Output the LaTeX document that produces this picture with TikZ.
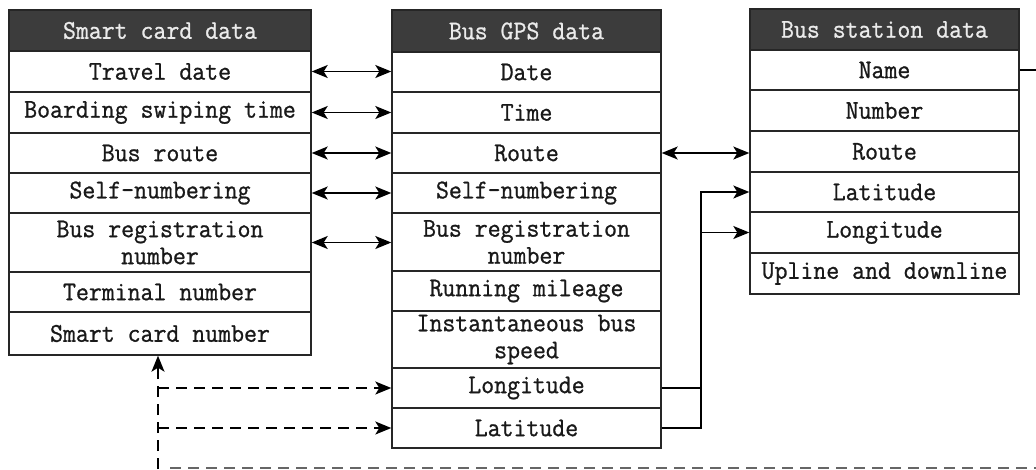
\documentclass[tikz,border=0pt]{standalone}
\usepackage{fontspec}
\usetikzlibrary{arrows.meta}
\newfontfamily\tfont[FakeBold=0.9,FakeStretch=0.93]{Latin Modern Mono}
\definecolor{hdr}{HTML}{3C3C3C}
\tikzset{
  cell/.style={draw=black!85, line width=1.4pt, fill=white, inner sep=0pt, align=center,
     font=\tfont\fontsize{27}{27}\selectfont, text=black!90},
  hcell/.style={cell, fill=hdr, text=white!92!black},
  tip/.style={-{Stealth[length=16pt,width=13pt,inset=4pt]}, line width=1.4pt},
  dtip/.style={{Stealth[length=16pt,width=13pt,inset=4pt]}-{Stealth[length=16pt,width=13pt,inset=4pt]}, line width=1.4pt},
  dashline/.style={line width=1.5pt, dash pattern=on 11pt off 7pt}
}
\newcommand{\cellat}[6]{% name, left, top, right, bottom, text
  \node[cell, minimum width={#4-#2}, minimum height={#5-#3}] (#1) at ({(#2+#4)/2},{(#3+#5)/2}) {#6};}
\newcommand{\hcellat}[6]{%
  \node[hcell, minimum width={#4-#2}, minimum height={#5-#3}] (#1) at ({(#2+#4)/2},{(#3+#5)/2}) {#6};}
\begin{document}
\begin{tikzpicture}[x=1pt,y=-1pt]
\useasboundingbox (0,0) rectangle (1036,469);
% left table
\hcellat{lh}{9}{10}{311}{51}{Smart card data}
\cellat{l1}{9}{51}{311}{92}{Travel date}
\cellat{l2}{9}{92}{311}{133}{Boarding swiping time}
\cellat{l3}{9}{133}{311}{173}{Bus route}
\cellat{l4}{9}{173}{311}{213}{Self-numbering}
\cellat{l5}{9}{213}{311}{272}{Bus registration\\number}
\cellat{l6}{9}{272}{311}{312}{Terminal number}
\cellat{l7}{9}{312}{311}{355}{Smart card number}
% middle table
\hcellat{mh}{392}{10}{661}{52}{Bus GPS data}
\cellat{m1}{392}{52}{661}{92}{Date}
\cellat{m2}{392}{92}{661}{133}{Time}
\cellat{m3}{392}{133}{661}{173}{Route}
\cellat{m4}{392}{173}{661}{213}{Self-numbering}
\cellat{m5}{392}{213}{661}{271}{Bus registration\\number}
\cellat{m6}{392}{271}{661}{311}{Running mileage}
\cellat{m7}{392}{311}{661}{368}{Instantaneous bus\\speed}
\cellat{m8}{392}{368}{661}{408}{Longitude}
\cellat{m9}{392}{408}{661}{448}{Latitude}
% right table
\hcellat{rh}{750}{9}{1019}{50}{Bus station data}
\cellat{r1}{750}{50}{1019}{90}{Name}
\cellat{r2}{750}{90}{1019}{131}{Number}
\cellat{r3}{750}{131}{1019}{172}{Route}
\cellat{r4}{750}{172}{1019}{212}{Latitude}
\cellat{r5}{750}{212}{1019}{253}{Longitude}
\cellat{r6}{750}{253}{1019}{294}{Upline and downline}
% double arrows left-middle
\draw[dtip] (l1.east) -- (l1.east -| m1.west);
\draw[dtip] (l2.east) -- (l2.east -| m2.west);
\draw[dtip] (l3.east) -- (l3.east -| m3.west);
\draw[dtip] (l4.east) -- (l4.east -| m4.west);
\draw[dtip] (l5.east) -- (l5.east -| m5.west);
\draw[dtip] (m3.east) -- (m3.east -| r3.west);
% elbow connectors
\coordinate (ex) at (701,0);
\draw[tip] (m8.east) -| (ex |- r5.west) -- (r5.west);
\draw[tip] (m9.east) -| (ex |- r4.west) -- (r4.west);
% name line to the edge
\coordinate (nr) at (1036,0);
\draw[line width=1.4pt] (r1.east) -- (r1.east -| nr);
% dashed connectors
\coordinate (db) at (158,469);
\coordinate (de) at (1036,468);
\draw[dashline] (db) -- (158,368);
\draw[tip] (158,372) -- (l7.south -| db);
\draw[dashline, tip] (db |- m8.west) -- (m8.west);
\draw[dashline, tip] (db |- m9.west) -- (m9.west);
\draw[dashline, draw=black!60] (170,468) -- (de);
\end{tikzpicture}
\end{document}
